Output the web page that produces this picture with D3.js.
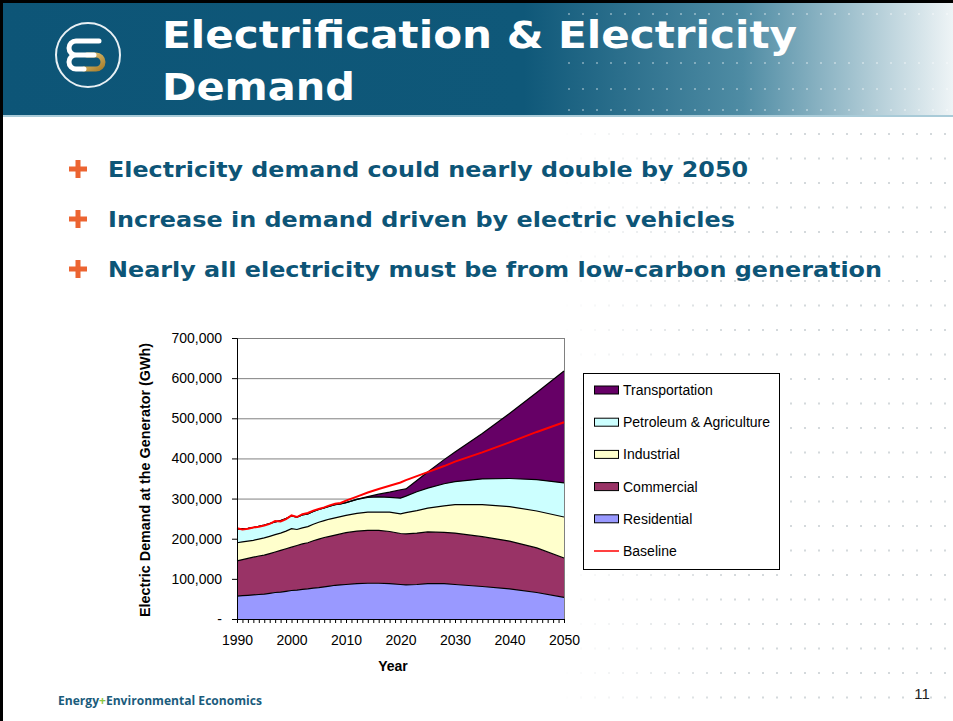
<!DOCTYPE html>
<html>
<head>
<meta charset="utf-8">
<script src="https://cdnjs.cloudflare.com/ajax/libs/d3/7.8.5/d3.min.js"></script>
<style>
  body { margin: 0; background: #fff; }
  svg { display: block; }
</style>
</head>
<body>
<svg id="slide" width="953" height="721"></svg>
<script>
// data (thousand GWh)
const years = [1990, 1991, 1992, 1993, 1994, 1995, 1996, 1997, 1998, 1999, 2000,
  2001, 2002, 2003, 2004, 2005, 2006, 2007, 2008, 2009, 2010,
  2012, 2014, 2016, 2018, 2020, 2021, 2023, 2025, 2028, 2030, 2035, 2040, 2045, 2050];
const residential = [57, 58, 59, 60, 61, 62, 64, 66, 67, 69, 71, 72, 74, 75, 77, 78, 80, 82, 84, 85, 86,
  88, 89, 89, 88, 86, 85, 86, 88, 88, 86, 81, 75, 66, 54];
const commercial = [88, 90, 92, 94, 96, 97, 99, 101, 104, 106, 108, 111, 113, 115, 118, 121, 123, 124, 125, 127, 129,
  131, 132, 132, 130, 127, 127, 128, 129, 128, 128, 124, 119, 111, 98];
const industrial = [45, 44, 43, 42, 42, 43, 43, 43, 43, 44, 46, 40, 40, 40, 41, 42, 42, 43, 43, 43, 43,
  44, 45, 45, 48, 49, 53, 56, 59, 66, 71, 80, 86, 92, 102];
const petroleumAg = [34, 33, 32, 32, 32, 32, 32, 32, 31, 31, 32, 31, 32, 32, 32, 32, 32, 32, 33, 32, 32,
  35, 37, 38, 37, 39, 41, 47, 50, 55, 57, 64, 70, 78, 85];
const transportation = [0, 0, 0, 0, 0, 0, 0, 0, 0, 0, 0, 0, 0, 0, 0, 0, 0, 0, 0, 0, 0,
  0, 2, 7, 13, 21, 18, 28, 40, 60, 74, 113, 162, 217, 279];
const baseline = [226, 223, 225, 228, 230, 233, 237, 244, 243, 249, 258, 254, 261, 264, 270, 274, 278, 283, 287, 289, 295,
  305, 315, 324, 332, 340, 346, 356, 366, 381, 392, 415, 440, 466, 490];

const yTicks = [0, 100, 200, 300, 400, 500, 600, 700];
const xLabels = [1990, 2000, 2010, 2020, 2030, 2040, 2050];
const bullets = [
  "Electricity demand could nearly double by 2050",
  "Increase in demand driven by electric vehicles",
  "Nearly all electricity must be from low-carbon generation"
];
const bulletWidths = [640, 627, 774];

const series = [
  {key: "residential", name: "Residential", values: residential, color: "#9999ff"},
  {key: "commercial", name: "Commercial", values: commercial, color: "#993366"},
  {key: "industrial", name: "Industrial", values: industrial, color: "#ffffcc"},
  {key: "petroleum", name: "Petroleum & Agriculture", values: petroleumAg, color: "#ccffff"},
  {key: "transportation", name: "Transportation", values: transportation, color: "#660066"}
];

const svg = d3.select("#slide");
const defs = svg.append("defs");

// ---- header band ----
const hg = defs.append("linearGradient").attr("id", "hdr").attr("x1", 0).attr("x2", 1).attr("y1", 0).attr("y2", 0);
hg.append("stop").attr("offset", "0").attr("stop-color", "#0d5577");
hg.append("stop").attr("offset", "0.55").attr("stop-color", "#0f5879");
hg.append("stop").attr("offset", "0.78").attr("stop-color", "#4f8ca4");
hg.append("stop").attr("offset", "1").attr("stop-color", "#eef4f6");

svg.append("rect").attr("x", 0).attr("y", 0).attr("width", 953).attr("height", 115).attr("fill", "url(#hdr)");
svg.append("rect").attr("x", 0).attr("y", 115).attr("width", 953).attr("height", 2).attr("fill", "#a9cbd8");

// dotted texture, header rows
[13, 62, 88, 109].forEach(yy => {
  svg.append("g").selectAll("rect")
    .data(d3.range(568, 953, 14))
    .join("rect")
    .attr("x", d => d).attr("y", yy).attr("width", 2).attr("height", 2)
    .attr("fill", "#ffffff").attr("opacity", 0.35);
});

// dotted texture, body
const fade = defs.append("linearGradient").attr("id", "fade").attr("x1", 0).attr("x2", 1).attr("y1", 0).attr("y2", 0);
fade.append("stop").attr("offset", "0").attr("stop-color", "#fff").attr("stop-opacity", 0);
fade.append("stop").attr("offset", "0.45").attr("stop-color", "#fff").attr("stop-opacity", 1);
fade.append("stop").attr("offset", "1").attr("stop-color", "#fff").attr("stop-opacity", 1);
defs.append("mask").attr("id", "dotmask")
  .append("rect").attr("x", 560).attr("y", 118).attr("width", 393).attr("height", 603).attr("fill", "url(#fade)");
const dots = svg.append("g").attr("mask", "url(#dotmask)");
d3.range(133, 721, 24.5).forEach(yy => {
  dots.append("g").selectAll("rect")
    .data(d3.range(566, 953, 14))
    .join("rect")
    .attr("x", d => d).attr("y", yy).attr("width", 2).attr("height", 2)
    .attr("fill", "#d4d9dc");
});

// slide frame
svg.append("rect").attr("x", 0).attr("y", 0).attr("width", 953).attr("height", 3).attr("fill", "#000");
svg.append("rect").attr("x", 0).attr("y", 0).attr("width", 3).attr("height", 721).attr("fill", "#000");

// logo
const logo = svg.append("g");
logo.append("circle").attr("cx", 88).attr("cy", 55).attr("r", 32)
  .attr("fill", "none").attr("stroke", "#e8f0f4").attr("stroke-width", 2);
const gold = defs.append("linearGradient").attr("id", "gold").attr("x1", 0).attr("x2", 1).attr("y1", 0).attr("y2", 1);
gold.append("stop").attr("offset", "0").attr("stop-color", "#e3c77a");
gold.append("stop").attr("offset", "1").attr("stop-color", "#a97f2c");
logo.append("path").attr("d", "M87,55 H96 A7,7 0 0 1 96,69 H84")
  .attr("fill", "none").attr("stroke", "url(#gold)").attr("stroke-width", 5).attr("stroke-linecap", "round");
logo.append("path").attr("d", "M99,41 H76 A7,7 0 0 0 76,55 H94 M76,55 A7,7 0 0 0 76,69 H84")
  .attr("fill", "none").attr("stroke", "#ffffff").attr("stroke-width", 5).attr("stroke-linecap", "round");

// title
const title = svg.append("g")
  .attr("font-family", "DejaVu Sans, Verdana, sans-serif")
  .attr("font-weight", "bold").attr("font-size", 37).attr("fill", "#ffffff");
title.append("text").attr("x", 162).attr("y", 48)
  .attr("textLength", 635).attr("lengthAdjust", "spacingAndGlyphs")
  .text("Electrification & Electricity");
title.append("text").attr("x", 162).attr("y", 100)
  .attr("textLength", 193).attr("lengthAdjust", "spacingAndGlyphs")
  .text("Demand");

// bullets
bullets.forEach((b, i) => {
  const by = 177 + i * 50;
  svg.append("rect").attr("x", 69).attr("y", by - 10.5).attr("width", 18).attr("height", 5).attr("fill", "#ec6431");
  svg.append("rect").attr("x", 75.5).attr("y", by - 17).attr("width", 5).attr("height", 18).attr("fill", "#ec6431");
  svg.append("text").attr("x", 108).attr("y", by)
    .attr("font-family", "DejaVu Sans, Verdana, sans-serif")
    .attr("font-weight", "bold").attr("font-size", 20.5).attr("fill", "#0d5577")
    .attr("textLength", bulletWidths[i]).attr("lengthAdjust", "spacingAndGlyphs")
    .text(b);
});

// ---- chart ----
const x = d3.scaleLinear().domain([1990, 2050]).range([237, 564]);
const y = d3.scaleLinear().domain([0, 700]).range([619, 338]);

const rows = years.map((yr, i) => {
  const r = {year: yr};
  series.forEach(s => { r[s.key] = s.values[i]; });
  return r;
});
const stacked = d3.stack().keys(series.map(s => s.key))(rows);

const chart = svg.append("g").attr("font-family", "Liberation Sans, Arial, sans-serif");

chart.append("rect").attr("x", x(1990)).attr("y", y(700))
  .attr("width", x(2050) - x(1990)).attr("height", y(0) - y(700)).attr("fill", "#fff");

// gridlines
chart.append("g").selectAll("line")
  .data(yTicks.filter(d => d > 0))
  .join("line")
  .attr("x1", x(1990)).attr("x2", x(2050))
  .attr("y1", d => y(d) + 0.5).attr("y2", d => y(d) + 0.5)
  .attr("stroke", "#808080").attr("stroke-width", 1);
chart.append("line").attr("x1", x(2050) + 0.5).attr("x2", x(2050) + 0.5)
  .attr("y1", y(700)).attr("y2", y(0)).attr("stroke", "#808080");

const area = d3.area()
  .x((d, i) => x(years[i]))
  .y0(d => y(d[0]))
  .y1(d => y(d[1]));
const topLine = d3.line()
  .x((d, i) => x(years[i]))
  .y(d => y(d[1]));

chart.append("g").selectAll("path")
  .data(stacked)
  .join("path")
  .attr("d", area)
  .attr("fill", (d, i) => series[i].color);

chart.append("g").selectAll("path")
  .data(stacked)
  .join("path")
  .attr("d", topLine)
  .attr("fill", "none").attr("stroke", "#000").attr("stroke-width", 1.2);

chart.append("path")
  .datum(baseline)
  .attr("d", d3.line().x((d, i) => x(years[i])).y(d => y(d)))
  .attr("fill", "none").attr("stroke", "#ff0000").attr("stroke-width", 2);

// axes
const yAxis = chart.append("g")
  .attr("transform", `translate(${x(1990)},0)`)
  .call(d3.axisLeft(y).tickValues(yTicks).tickSize(5).tickPadding(10)
    .tickFormat(d => d === 0 ? "-" : d3.format(",")(d * 1000)));
yAxis.select(".domain").attr("stroke", "#000");
yAxis.selectAll("text").attr("font-size", 14).attr("fill", "#000").attr("font-family", "Liberation Sans, Arial, sans-serif");

const xAxis = chart.append("g")
  .attr("transform", `translate(0,${y(0)})`)
  .call(d3.axisBottom(x).tickValues(d3.range(1990, 2051)).tickSize(4).tickPadding(12)
    .tickFormat(d => xLabels.includes(d) ? String(d) : ""));
xAxis.select(".domain").attr("stroke", "#000");
xAxis.selectAll("text").attr("font-size", 14).attr("fill", "#000").attr("font-family", "Liberation Sans, Arial, sans-serif");

chart.append("text").attr("x", 393).attr("y", 671).attr("text-anchor", "middle")
  .attr("font-size", 14).attr("font-weight", "bold").text("Year");
chart.append("text")
  .attr("transform", "translate(150,480) rotate(-90)")
  .attr("text-anchor", "middle").attr("font-size", 14).attr("font-weight", "bold")
  .attr("textLength", 274).attr("lengthAdjust", "spacingAndGlyphs")
  .text("Electric Demand at the Generator (GWh)");

// legend
const legend = chart.append("g");
legend.append("rect").attr("x", 583.5).attr("y", 373.5).attr("width", 196).attr("height", 196)
  .attr("fill", "#fff").attr("stroke", "#000");
const legendItems = series.slice().reverse().map(s => ({name: s.name, color: s.color}))
  .concat([{name: "Baseline", line: true}]);
legendItems.forEach((it, i) => {
  const ly = 390 + i * 32.2;
  if (it.line) {
    legend.append("line").attr("x1", 594).attr("x2", 619).attr("y1", ly).attr("y2", ly)
      .attr("stroke", "#ff0000").attr("stroke-width", 1.5);
  } else {
    legend.append("rect").attr("x", 594.5).attr("y", ly - 4).attr("width", 24).attr("height", 8)
      .attr("fill", it.color).attr("stroke", "#000");
  }
  legend.append("text").attr("x", 623).attr("y", ly + 5).attr("font-size", 14).text(it.name);
});

// footer
const foot = svg.append("text").attr("x", 58).attr("y", 705)
  .attr("font-family", "Open Sans, sans-serif").attr("font-weight", "bold").attr("font-size", 12.5)
  .attr("fill", "#1b5c7c").attr("textLength", 204).attr("lengthAdjust", "spacingAndGlyphs");
foot.append("tspan").text("Energy");
foot.append("tspan").attr("fill", "#8cc63f").text("+");
foot.append("tspan").text("Environmental Economics");

svg.append("text").attr("x", 922).attr("y", 699).attr("text-anchor", "middle")
  .attr("font-family", "Liberation Sans, Arial, sans-serif").attr("font-size", 15).attr("fill", "#222")
  .text("11");
</script>
</body>
</html>
